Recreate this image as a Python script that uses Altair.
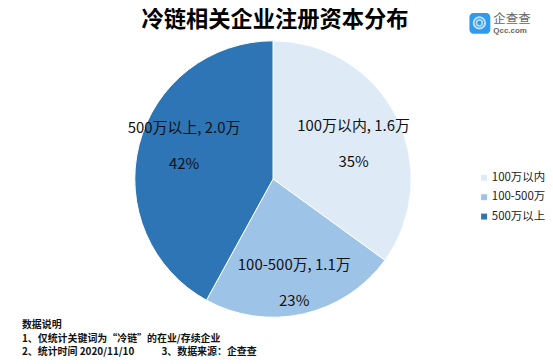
import altair as alt
import pandas as pd

categories = ["100万以内", "100-500万", "500万以上"]
amounts = ["1.6万", "1.1万", "2.0万"]
percents = [35, 23, 42]
colors = ["#DEEBF7", "#9DC3E6", "#2E75B6"]
title_text = "冷链相关企业注册资本分布"
notes = ["数据说明", "1、仅统计关键词为“冷链”的在业/存续企业",
         "2、统计时间\u00a02020/11/10\u00a0\u00a0\u00a0\u00a0\u00a0\u00a0\u00a0\u00a0\u00a0\u00a0\u00a0\u00a03、数据来源：企查查"]

FONT = "Noto Sans CJK SC"
df = pd.DataFrame({
    "cat": categories, "amount": amounts, "pct": percents,
    "idx": list(range(len(categories))),
})
df["lines"] = [[f"{c}, {a}", f"{p}%"] for c, a, p in zip(categories, amounts, percents)]

cx, cy, R = 266.5, 141, 139
center = dict(x=alt.value(cx), y=alt.value(cy))
theta = alt.Theta("pct:Q", stack=True)
order = alt.Order("idx:Q")

pie = alt.Chart(df).mark_arc(outerRadius=R, stroke="#ffffff", strokeWidth=1).encode(
    theta=theta, order=order,
    color=alt.Color("cat:N", scale=alt.Scale(domain=categories, range=colors),
        legend=alt.Legend(title=None, orient="none", legendX=473, legendY=134,
            symbolType="square", symbolSize=36, symbolStrokeWidth=0,
            labelFont=FONT, labelFontSize=11.5, labelColor="#222222", rowPadding=6.5, labelOffset=2)),
    **center,
)

labels = alt.Chart(df).mark_text(
    font=FONT, fontSize=15, color="#111111", lineHeight=36, align="center", baseline="middle",
    radius=alt.expr("datum.idx == 0 ? 87 : datum.idx == 1 ? 107 : 82"),
    dx=alt.expr("datum.idx == 0 ? 3.5 : datum.idx == 1 ? -2 : -10"),
    dy=alt.expr("datum.idx == 0 ? -14 : datum.idx == 1 ? -17.5 : -31"),
).encode(theta=theta, order=order, text="lines:N", **center)

notes_df = pd.DataFrame({"t": notes, "i": range(len(notes))})
note_layer = alt.Chart(notes_df).mark_text(
    font=FONT, fontSize=10, fontWeight="bold", color="#111111", align="left", baseline="middle",
).encode(x=alt.value(14), y=alt.Y("i:Q", axis=None, scale=alt.Scale(domain=[0, 2], range=[288, 315])), text="t:N")

one = df.head(1)
title_layer = alt.Chart(one).mark_text(font=FONT, fontSize=22.4, fontWeight="bold", color="#000000",
    align="center", baseline="middle").encode(x=alt.value(268.5), y=alt.value(-18.5), text=alt.value(title_text))

# logo
logo_box = alt.Chart(one).mark_rect(color="#2E9BF0", cornerRadius=4).encode(
    x=alt.value(464), x2=alt.value(485), y=alt.value(-26), y2=alt.value(-5))
ring1 = alt.Chart(one).mark_point(shape="circle", filled=False, color="#ffffff", size=130, strokeWidth=2).encode(
    x=alt.value(474), y=alt.value(-16))
ring2 = alt.Chart(one).mark_point(shape="circle", filled=False, color="#ffffff", size=35, strokeWidth=1.5).encode(
    x=alt.value(474), y=alt.value(-16))
logo_t1 = alt.Chart(one).mark_text(font=FONT, fontSize=12.5, color="#666666", align="left", baseline="middle").encode(
    x=alt.value(488), y=alt.value(-20), text=alt.value("企查查"))
logo_t2 = alt.Chart(one).mark_text(font="Liberation Sans", fontSize=8, fontWeight="bold", color="#666666", align="left", baseline="middle").encode(
    x=alt.value(488), y=alt.value(-7.5), text=alt.value("Qcc.com"))

chart = alt.layer(pie, labels, note_layer, title_layer, logo_box, ring1, ring2, logo_t1, logo_t2).properties(
    width=540, height=318,
    padding={"left": 0, "top": 30, "right": 0, "bottom": 4},
    autosize=alt.AutoSizeParams(type="none"),
).configure_view(stroke=None)

chart.save("out.html", embed_options={"renderer": "svg", "actions": False})
